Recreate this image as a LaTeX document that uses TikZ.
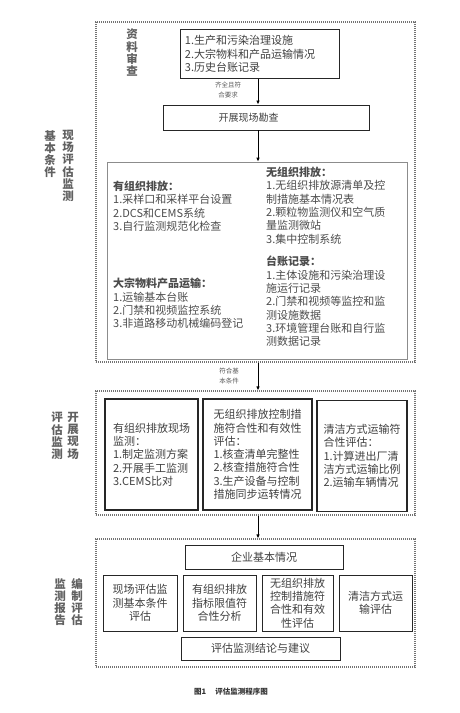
\documentclass[tikz,border=0pt]{standalone}
\usepackage{fontspec}
\setmainfont{Noto Sans CJK SC}
\usetikzlibrary{arrows.meta}

\begin{document}
\begin{tikzpicture}[x=1pt, y=-1pt,
    frame/.style={draw=black!55, dash pattern=on 1.2pt off 0.8pt, line width=1.1pt, inner sep=0pt},
    box/.style={draw=black!85, line width=0.9pt, inner sep=3pt, text=black!75,
      font=\fontsize{11}{13.3}\selectfont},
    thickbox/.style={box, line width=1.3pt, align=left},
    listtext/.style={anchor=north west, align=left, inner sep=0pt, text=black!70,
      font=\fontsize{11}{13.3}\selectfont},
    vlabel/.style={anchor=north, align=center, inner sep=0pt, text=black!62,
      font=\fontsize{11.5}{12.2}\selectfont\bfseries},
    note/.style={align=center, inner sep=0pt, text=black!65,
      font=\fontsize{6.5}{9.5}\selectfont},
    flow/.style={draw, line width=1pt, -{Latex[length=4pt, width=3.5pt]}}]
    \useasboundingbox (0,0) rectangle (460,713);

    % Três etapas em molduras tracejadas.
    \node[frame, minimum width=319, minimum height=340] (stageA) at (255.5,192) {};
    \node[frame, minimum width=319, minimum height=124] (stageB) at (255.5,453) {};
    \node[frame, minimum width=319, minimum height=128] (stageC) at (255.5,603) {};

    % Rótulos verticais à esquerda.
    \node[vlabel] (labA1) at (68,130) {现\\场\\评\\估\\监\\测};
    \node[vlabel] (labA2) at (50,130) {基\\本\\条\\件};
    \node[vlabel] (labB1) at (73,412) {开\\展\\现\\场};
    \node[vlabel] (labB2) at (57,412) {评\\估\\监\\测};
    \node[vlabel] (labC1) at (77,578) {编\\制\\评\\估};
    \node[vlabel] (labC2) at (60,578) {监\\测\\报\\告};

    % Etapa 1: revisão dos documentos e vistoria.
    \node[vlabel] (labDocs) at (132,29) {资\\料\\审\\查};
    \node[box, align=left, minimum width=159, minimum height=49, anchor=north west,
      text width=150] (docs) at (180,29)
      {1.生产和污染治理设施\\2.大宗物料和产品运输情况\\3.历史台账记录};
    \node[box, minimum width=206, minimum height=25] (survey) at (266,117.5)
      {\fontsize{10}{12}\selectfont 开展现场勘查\hspace*{35pt}};
    \node[draw=black!45, line width=0.6pt, minimum width=300, minimum height=197,
      inner sep=0pt] (checks) at (257,260.5) {};
    \node[note] (okDocs) at (228,90) {齐全且符\\合要求};
    \draw[flow] (docs.south -| 258,0) -- (survey.north -| 258,0);
    \draw[flow] (survey.south -| 258,0) -- (checks.north -| 258,0);

    % Itens verificados na vistoria.
    \node[listtext] (organized) at (113,181)
      {\textbf{有组织排放：}\\1.采样口和采样平台设置\\2.DCS和CEMS系统\\3.自行监测规范化检查};
    \node[listtext] (transport) at (113,278)
      {\textbf{大宗物料产品运输：}\\1.运输基本台账\\2.门禁和视频监控系统\\3.非道路移动机械编码登记};
    \node[listtext] (fugitive) at (266,167)
      {\textbf{无组织排放：}\\1.无组织排放源清单及控\\制措施基本情况表\\2.颗粒物监测仪和空气质\\量监测微站\\3.集中控制系统};
    \node[listtext] (ledger) at (266,256)
      {\textbf{台账记录：}\\1.主体设施和污染治理设\\施运行记录\\2.门禁和视频等监控和监\\测设施数据\\3.环境管理台账和自行监\\测数据记录};

    % Etapa 2: monitoramento de avaliação.
    \node[note] (okBase) at (229,376) {符合基\\本条件};
    \draw[flow] (stageA.south -| 258,0) -- (stageB.north -| 258,0);
    \node[thickbox, minimum width=93, minimum height=111] (orgMon) at (151.5,454.5)
      {有组织排放现场\\监测：\\1.制定监测方案\\2.开展手工监测\\3.CEMS比对};
    \node[thickbox, minimum width=109, minimum height=111] (fugEval) at (257.5,454.5)
      {无组织排放控制措\\施符合性和有效性\\评估：\\1.核查清单完整性\\2.核查措施符合性\\3.生产设备与控制\\措施同步运转情况};
    \node[thickbox, minimum width=90, minimum height=111] (cleanEval) at (362,456)
      {清洁方式运输符\\合性评估：\\1.计算进出厂清\\洁方式运输比例\\2.运输车辆情况};

    % Etapa 3: relatório.
    \draw[flow] (stageB.south -| 258,0) -- (stageC.north -| 258,0);
    \node[box, minimum width=158, minimum height=24] (company) at (264,557) {企业基本情况};
    \node[box, align=center, minimum width=74, minimum height=56] (repA) at (140,603)
      {现场评估监\\测基本条件\\评估};
    \node[box, align=center, minimum width=73, minimum height=56] (repB) at (219.5,603)
      {有组织排放\\指标限值符\\合性分析};
    \node[box, align=center, minimum width=71, minimum height=56, inner sep=1pt] (repC) at (297.5,603)
      {无组织排放\\控制措施符\\合性和有效\\性评估};
    \node[box, align=center, minimum width=73, minimum height=56] (repD) at (375.5,603)
      {清洁方式运\\输评估};
    \node[box, minimum width=159, minimum height=23] (concl) at (260.5,648.5) {评估监测结论与建议};

    % Legenda.
    \node[font=\fontsize{7.5}{9}\selectfont\bfseries, text=black!80] (caption) at (231,692)
      {图1\hspace{1.2em}评估监测程序图};
\end{tikzpicture}
\end{document}
